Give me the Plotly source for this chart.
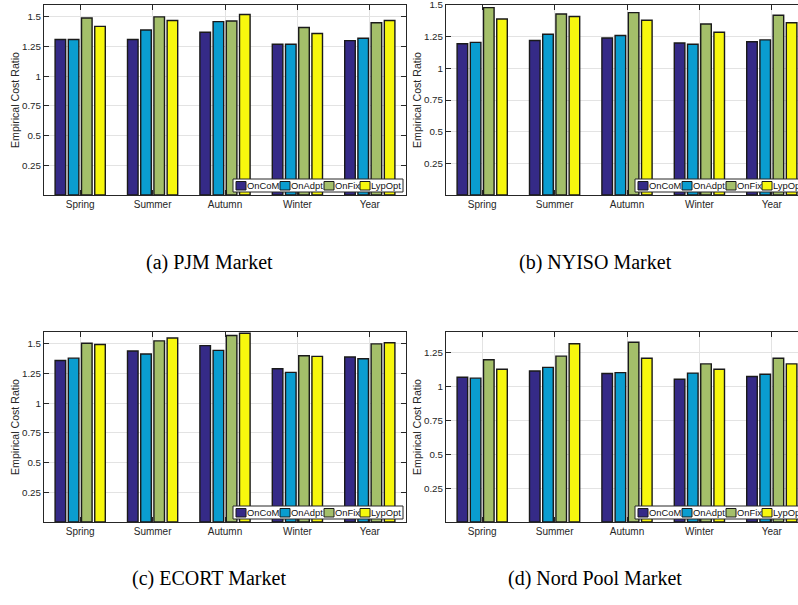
import plotly.graph_objects as go

W, H = 798, 605

categories = ["Spring", "Summer", "Autumn", "Winter", "Year"]
series_names = ["OnCoM", "OnAdpt", "OnFix", "LypOpt"]
series_colors = ["#352A87", "#0A9DD0", "#A4BF6A", "#F7F70E"]

# values per market, one list per series (OnCoM, OnAdpt, OnFix, LypOpt)
pjm_values = [
    [1.31, 1.31, 1.37, 1.27, 1.30],
    [1.31, 1.39, 1.46, 1.27, 1.32],
    [1.49, 1.50, 1.465, 1.41, 1.45],
    [1.42, 1.47, 1.52, 1.36, 1.47],
]
nyiso_values = [
    [1.195, 1.22, 1.24, 1.20, 1.21],
    [1.205, 1.27, 1.26, 1.19, 1.225],
    [1.48, 1.43, 1.44, 1.35, 1.42],
    [1.39, 1.41, 1.38, 1.285, 1.36],
]
ecort_values = [
    [1.36, 1.44, 1.485, 1.29, 1.39],
    [1.38, 1.415, 1.445, 1.26, 1.375],
    [1.505, 1.525, 1.57, 1.40, 1.50],
    [1.495, 1.55, 1.59, 1.395, 1.51],
]
nordpool_values = [
    [1.067, 1.113, 1.094, 1.052, 1.072],
    [1.06, 1.139, 1.101, 1.097, 1.089],
    [1.195, 1.222, 1.325, 1.165, 1.207],
    [1.126, 1.313, 1.207, 1.126, 1.165],
]

captions = ["(a) PJM Market", "(b) NYISO Market", "(c) ECORT Market", "(d) Nord Pool Market"]
y_ranges = [[0, 1.6], [0, 1.5005], [0, 1.6], [0, 1.4]]
y_tickvals = [0.25, 0.5, 0.75, 1, 1.25, 1.5]
y_ticktext = ["0.25", "0.5", "0.75", "1", "1.25", "1.5"]

markets = [pjm_values, nyiso_values, ecort_values, nordpool_values]

# panel geometry in pixels (left, right, top, bottom)
panels_px = [
    (44, 406, 5, 195),
    (446, 808, 5, 195),
    (44, 406, 332, 522),
    (446, 808, 332, 522),
]
caption_px = [(209, 262), (595, 262), (209, 578), (595, 578)]

AXC = "#262626"
GRID = "#e3e3e3"
SANS = "Liberation Sans, Arial, sans-serif"


def px_x(x):
    return x / W


def px_y(y):
    return 1 - y / H


fig = go.Figure()
shapes = []
annotations = []

for p, values in enumerate(markets):
    ax = "" if p == 0 else str(p + 1)
    l, r, t, b = panels_px[p]
    vis_r = min(r, W)
    cat_w = (r - l) / 5.0
    x_hi = -0.5 + (vis_r - l) / cat_w
    for j, name in enumerate(series_names):
        fig.add_trace(go.Bar(
            x=categories, y=values[j], name=name,
            marker=dict(color=series_colors[j], line=dict(color="#1a1a1a", width=1.4)),
            xaxis="x" + ax, yaxis="y" + ax, showlegend=False,
            offsetgroup=str(j),
        ))
    clipped = r > W
    fig.layout["xaxis" + ax] = dict(
        domain=[px_x(l), px_x(vis_r)], range=[-0.5, x_hi], anchor="y" + ax,
        showline=True, linecolor=AXC, linewidth=1, mirror="ticks",
        ticks="inside", ticklen=5, tickcolor=AXC,
        showgrid=True, gridcolor=GRID, gridwidth=1, automargin=False,
        tickfont=dict(family=SANS, size=10, color=AXC),
        fixedrange=True,
    )
    fig.layout["yaxis" + ax] = dict(
        domain=[px_y(b), px_y(t)], range=y_ranges[p], anchor="x" + ax,
        showline=True, linecolor=AXC, linewidth=1,
        mirror=False if clipped else "ticks",
        ticks="inside", ticklen=5, tickcolor=AXC,
        tickvals=y_tickvals, ticktext=y_ticktext,
        ticklabeloverflow="allow", automargin=False,
        showgrid=True, gridcolor=GRID, gridwidth=1, zeroline=False,
        tickfont=dict(family=SANS, size=9.8, color=AXC),
        fixedrange=True,
    )
    # y axis title
    annotations.append(dict(
        text="Empirical Cost Ratio", xref="paper", yref="paper",
        x=px_x(l - 29), y=px_y((t + b) / 2), textangle=-90,
        showarrow=False, xanchor="center", yanchor="middle",
        font=dict(family=SANS, size=10.6, color=AXC),
    ))
    # caption
    cx, cy = caption_px[p]
    annotations.append(dict(
        text=captions[p], xref="paper", yref="paper",
        x=px_x(cx), y=px_y(cy), showarrow=False,
        xanchor="center", yanchor="middle",
        font=dict(family="Liberation Serif, Times New Roman, serif", size=20, color="black"),
    ))
    # legend box (drawn inside bottom-right of each panel)
    shapes.append(dict(
        type="rect", xref="paper", yref="paper", layer="above",
        x0=px_x(l + 189), x1=px_x(l + 359), y0=px_y(b - 3), y1=px_y(b - 16),
        fillcolor="white", line=dict(color=AXC, width=1),
    ))
    item_off = [192, 236, 280, 316]
    for j, name in enumerate(series_names):
        sx = l + item_off[j]
        shapes.append(dict(
            type="rect", xref="paper", yref="paper", layer="above",
            x0=px_x(sx), x1=px_x(sx + 10), y0=px_y(b - 5), y1=px_y(b - 13.5),
            fillcolor=series_colors[j], line=dict(color="#1a1a1a", width=1),
        ))
        annotations.append(dict(
            text=name, xref="paper", yref="paper",
            x=px_x(sx + 10), y=px_y(b - 9.5), showarrow=False,
            xanchor="left", yanchor="middle", borderpad=0,
            font=dict(family=SANS, size=9.4, color="#111"),
        ))

fig.update_layout(
    width=W, height=H, margin=dict(l=0, r=0, t=0, b=0, autoexpand=False),
    paper_bgcolor="white", plot_bgcolor="white",
    barmode="group", bargap=0.27, bargroupgap=0.2,
    shapes=shapes, annotations=annotations,
    showlegend=False,
)

fig.write_html(
    "out.html",
    config={"displayModeBar": False},
    post_script="document.body.style.margin='0';document.body.style.overflow='hidden';",
)
